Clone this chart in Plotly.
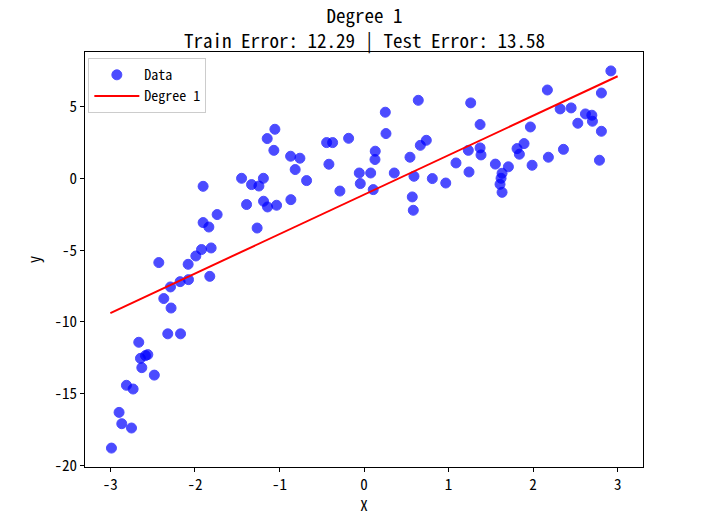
import plotly.graph_objects as go

# Scatter data
x_data = [-2.987, -2.897, -2.865, -2.750, -2.810, -2.731, -2.664, -2.644, -2.585, -2.557,
          -2.628, -2.480, -2.321, -2.170, -2.368, -2.282, -2.427, -2.289, -2.175, -2.076,
          -1.824, -2.080, -1.989, -1.922, -1.808, -1.903, -1.835, -1.737, -1.903, -1.448,
          -1.330, -1.243, -1.190, -1.389, -1.188, -1.141, -1.034, -1.264, -1.054, -1.145,
          -1.066, -0.868, -0.758, -0.814, -0.679, -0.865, -0.442, -0.371, -0.415, -0.285,
          -0.182, -0.056, -0.044, 0.079, 0.109, 0.133, 0.130, 0.252, 0.260, 0.358,
          0.544, 0.591, 0.571, 0.583, 0.642, 0.666, 0.737, 0.808, 0.967, 1.088,
          1.234, 1.242, 1.262, 1.373, 1.373, 1.384, 1.554, 1.633, 1.621, 1.609,
          1.633, 1.708, 1.810, 1.893, 1.838, 1.968, 1.988, 2.169, 2.181, 2.320,
          2.359, 2.450, 2.529, 2.619, 2.695, 2.702, 2.785, 2.808, 2.808, 2.920]
y_data = [-18.80, -16.31, -17.10, -17.40, -14.42, -14.68, -11.42, -12.54, -12.35, -12.28,
          -13.19, -13.71, -10.83, -10.83, -8.37, -9.03, -5.86, -7.56, -7.19, -7.05,
          -6.82, -5.98, -5.40, -4.95, -4.84, -3.07, -3.38, -2.51, -0.54, 0.02,
          -0.42, -0.52, 0.02, -1.81, -1.58, -1.98, -1.86, -3.45, 3.44, 2.79,
          1.97, 1.56, 1.42, 0.63, -0.14, -1.47, 2.51, 2.51, 1.00, -0.87,
          2.81, 0.39, -0.35, 0.39, -0.77, 1.91, 1.33, 4.63, 3.14, 0.39,
          1.49, 0.16, -1.28, -2.21, 5.46, 2.32, 2.67, 0.00, -0.31, 1.09,
          1.97, 0.46, 5.28, 3.77, 2.14, 1.65, 1.01, 0.37, 0.02, -0.40,
          -0.96, 0.82, 2.09, 2.44, 1.70, 3.60, 0.93, 6.18, 1.49, 4.86,
          2.04, 4.93, 3.86, 4.51, 4.42, 4.00, 1.28, 3.30, 5.97, 7.51]

# Fitted degree-1 line
fit_x = [-3.0, 3.0]
fit_y = [-9.38, 7.14]

x_ticks = [-3, -2, -1, 0, 1, 2, 3]
x_tick_text = ["-3", "-2", "-1", "0", "1", "2", "3"]
y_ticks = [-20, -15, -10, -5, 0, 5]
y_tick_text = ["-20", "-15", "-10", "-5", "0", "5"]

title_line1 = "Degree 1"
title_line2 = "Train Error: 12.29 | Test Error: 13.58"

FONT = "Noto Sans Mono CJK SC, Noto Sans CJK SC, DejaVu Sans Mono, monospace"

fig = go.Figure()
fig.add_trace(go.Scatter(
    x=x_data, y=y_data, mode="markers", name="Data",
    marker=dict(color="blue", size=10, opacity=0.7,
                line=dict(color="blue", width=1)),
))
fig.add_trace(go.Scatter(
    x=fit_x, y=fit_y, mode="lines", name="Degree 1",
    line=dict(color="red", width=2),
))

axis_common = dict(showline=True, mirror=True, linecolor="black", linewidth=1,
                   ticks="outside", ticklen=4, tickcolor="black", tickwidth=1,
                   showgrid=False, zeroline=False,
                   tickfont=dict(family=FONT, size=15, color="black"))

fig.update_layout(
    width=722, height=521,
    paper_bgcolor="white", plot_bgcolor="white",
    margin=dict(l=85, r=79, t=52, b=54),
    font=dict(family=FONT, size=15, color="black"),
    xaxis=dict(range=[-3.3, 3.3], tickvals=x_ticks, ticktext=x_tick_text,
               title=dict(text="X", standoff=2, font=dict(family=FONT, size=15)),
               **axis_common),
    yaxis=dict(range=[-20.12, 8.83], tickvals=y_ticks, ticktext=y_tick_text,
               title=dict(text="y", standoff=10, font=dict(family=FONT, size=15)),
               **axis_common),
    legend=dict(x=0.006, y=0.985, xanchor="left", yanchor="top",
                bgcolor="rgba(255,255,255,0.8)", bordercolor="#cccccc", borderwidth=1,
                itemwidth=45, tracegroupgap=0,
                font=dict(family=FONT, size=14)),
    showlegend=True,
)
fig.add_annotation(text=title_line1 + "<br>" + title_line2,
                   xref="paper", yref="paper", x=0.5, y=1.060,
                   xanchor="center", yanchor="middle", showarrow=False, align="center",
                   font=dict(family=FONT, size=19, color="black"))

fig.write_html("out.html", config={"displayModeBar": False},
               post_script="document.body.style.margin='0';")
